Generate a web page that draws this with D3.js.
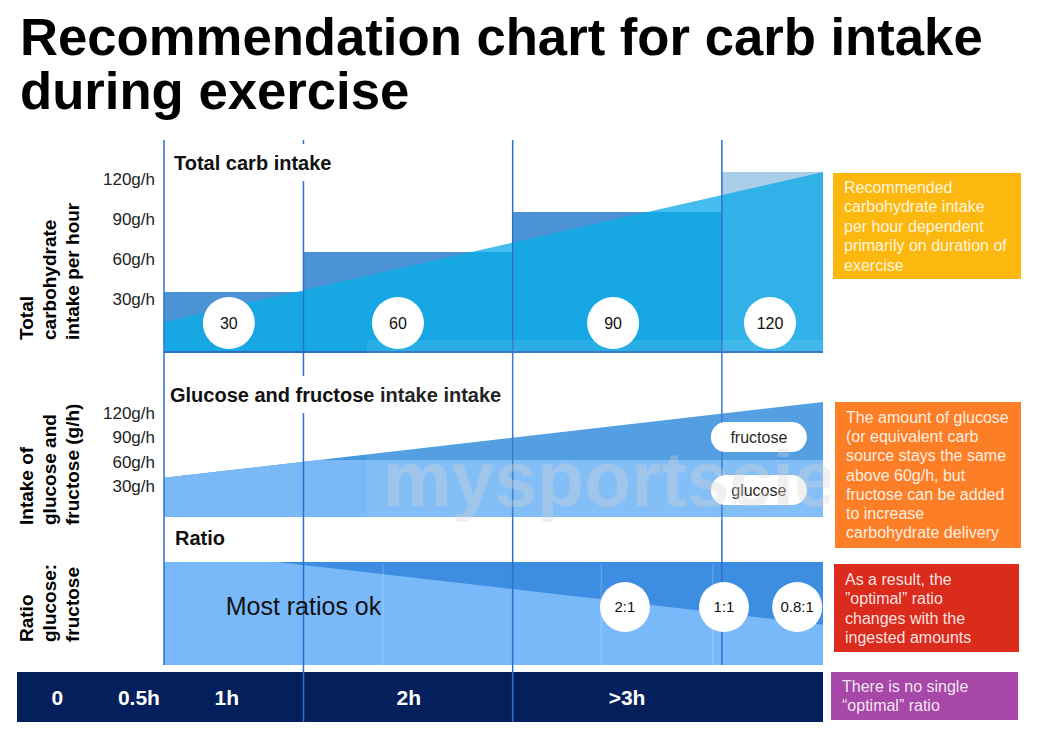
<!DOCTYPE html>
<html>
<head>
<meta charset="utf-8">
<script src="https://cdn.jsdelivr.net/npm/d3@7"></script>
<style>
  html, body { margin: 0; padding: 0; background: #fff; }
  svg { display: block; font-family: "Liberation Sans", Arial, Helvetica, sans-serif; }
</style>
</head>
<body>
<div id="chart"></div>
<script>
// time is in "illustration units": 0 = start of the first column, boundaries at 2, 5, 8
const columnEdges = [0, 2, 5, 8, 9.45];
const carbSteps = [30, 60, 90, 120];
const carbStepLabels = ["30", "60", "90", "120"];
const carbLabelAt = [0.93, 3.355, 6.44, 8.69];
const carbTrend = [{ t: 0, v: 7.5 }, { t: 9.45, v: 120 }];
const intakeTicks = [30, 60, 90, 120];

const gfTotal = [{ t: 0, v: 38 }, { t: 9.45, v: 131 }];
const glucoseCap = 60;
const gfTicks = [30, 60, 90, 120];
const gfPills = [{ label: "fructose", t: 8.53, v: 88 }, { label: "glucose", t: 8.53, v: 23 }];

const ratioEdge = [{ t: 1.62, v: 1 }, { t: 9.45, v: 0.39 }];
const ratioLabels = ["2:1", "1:1", "0.8:1"];
const ratioLabelAt = [6.61, 8.03, 9.08];
const ratioGuides = [3.14, 6.27, 7.87];

const axisLabels = ["0", "0.5h", "1h", "2h", ">3h"];
const axisLabelAt = [-1.53, -0.36, 0.9, 3.51, 6.64];

const notes = [
  { color: "#fdb80f", lines: ["Recommended", "carbohydrate intake", "per hour dependent", "primarily on duration of", "exercise"] },
  { color: "#fc7f28", lines: ["The amount of glucose", "(or equivalent carb", "source stays the same", "above 60g/h, but", "fructose can be added", "to increase", "carbohydrate delivery"] },
  { color: "#db2b1d", lines: ["As a result, the", "\u201doptimal\u201d ratio", "changes with the", "ingested amounts"] },
  { color: "#a747a8", lines: ["There is no single", "\u201coptimal\u201d ratio"] }
];

const width = 1059, height = 734;
const svg = d3.select("#chart").append("svg").attr("width", width).attr("height", height);

const x = d3.scaleLinear().domain([0, 9.45]).range([164, 823]);
const y1 = d3.scaleLinear().domain([-15, 120]).range([352, 172]);   // total carb panel
const y2 = d3.scaleLinear().domain([-10, 120]).range([517, 411]);   // glucose / fructose panel
const y3 = d3.scaleLinear().domain([0, 1]).range([665, 562]);       // ratio panel

// Title
const title = svg.append("g").attr("font-weight", "bold").attr("fill", "#000");
const t1 = title.append("text").attr("x", 20).attr("y", 55).attr("font-size", 50).text("Recommendation chart for carb intake");
const fs = 50 * 963 / t1.node().getComputedTextLength();
t1.attr("font-size", fs);
title.append("text").attr("x", 20).attr("y", 109).attr("font-size", fs).text("during exercise");

// ---- Total carb intake panel
const steps = carbSteps.map((v, i) => ({ v, t0: columnEdges[i], t1: columnEdges[i + 1], last: i === carbSteps.length - 1 }));
const trendArea = d3.area().x((d) => x(d.t)).y0(y1.range()[0]).y1((d) => y1(d.v));

svg.append("path").datum(carbTrend).attr("d", trendArea).attr("fill", "#46bdef");

svg.selectAll(".step").data(steps).join("rect")
  .attr("class", "step")
  .attr("x", (d) => x(d.t0)).attr("width", (d) => x(d.t1) - x(d.t0))
  .attr("y", (d) => y1(d.v)).attr("height", (d) => y1.range()[0] - y1(d.v))
  .attr("fill", (d) => d.last ? "#aacdea" : "#4b93d5");

const defs = svg.append("defs");
steps.forEach((d, i) => {
  defs.append("clipPath").attr("id", "step" + i).append("rect")
    .attr("x", x(d.t0)).attr("width", x(d.t1) - x(d.t0))
    .attr("y", y1(d.v)).attr("height", y1.range()[0] - y1(d.v));
  svg.append("path").datum(carbTrend).attr("d", trendArea)
    .attr("clip-path", `url(#step${i})`)
    .attr("fill", d.last ? "#30b2e9" : "#17a7e3");
});

svg.append("line").attr("x1", x(0)).attr("x2", x(9.45)).attr("y1", 352).attr("y2", 352)
  .attr("stroke", "#2a6dc2").attr("stroke-width", 2);

// ---- Glucose and fructose panel
const gfArea = d3.area().x((d) => x(d.t)).y0(y2.range()[0]).y1((d) => y2(d.v));
svg.append("path").datum(gfTotal).attr("d", gfArea).attr("fill", "#4697e0");
const tCap = gfTotal[0].t + (glucoseCap - gfTotal[0].v) / (gfTotal[1].v - gfTotal[0].v) * (gfTotal[1].t - gfTotal[0].t);
const glucose = [gfTotal[0], { t: tCap, v: glucoseCap }, { t: gfTotal[1].t, v: glucoseCap }];
svg.append("path").datum(glucose).attr("d", gfArea).attr("fill", "#7ab9f6");

// ---- Ratio panel
svg.append("rect").attr("x", x(0)).attr("width", x(9.45) - x(0))
  .attr("y", y3(1)).attr("height", y3(0) - y3(1)).attr("fill", "#3d8ee2");
const ratioArea = d3.area().x((d) => x(d.t)).y0(y3(0)).y1((d) => y3(d.v));
svg.append("path").datum([{ t: 0, v: 1 }, ...ratioEdge]).attr("d", ratioArea).attr("fill", "#79b9f9");
svg.selectAll(".rguide").data(ratioGuides).join("line")
  .attr("x1", (d) => x(d)).attr("x2", (d) => x(d))
  .attr("y1", y3(1) + 3).attr("y2", y3(0))
  .attr("stroke", "#fff").attr("stroke-opacity", 0.25).attr("stroke-width", 1);

// ---- Bottom time bar
svg.append("rect").attr("x", 17).attr("y", 672).attr("width", x(9.45) - 17).attr("height", 50).attr("fill", "#04205c");
svg.selectAll(".tlab").data(axisLabels).join("text")
  .attr("x", (d, i) => x(axisLabelAt[i])).attr("y", 705)
  .attr("text-anchor", "middle").attr("font-size", 21).attr("font-weight", "bold").attr("fill", "#fff")
  .text((d) => d);

// ---- Vertical guides
const guides = [
  { t: columnEdges[0], y0: 140, y1: 665 },
  { t: columnEdges[1], y0: 140, y1: 722 },
  { t: columnEdges[2], y0: 140, y1: 722 },
  { t: columnEdges[3], y0: 140, y1: 665 }
];
svg.selectAll(".vguide").data(guides).join("line")
  .attr("x1", (d) => x(d.t)).attr("x2", (d) => x(d.t))
  .attr("y1", (d) => d.y0).attr("y2", (d) => d.y1)
  .attr("stroke", "#2f6fcc").attr("stroke-width", 1.5);

// ---- Panel titles (white backing hides guide lines)
function panelTitle(txt, px, py) {
  const g = svg.append("g");
  const bg = g.append("rect").attr("fill", "#fff");
  const tx = g.append("text").attr("x", px).attr("y", py).attr("font-size", 20).attr("font-weight", "bold").attr("fill", "#111").text(txt);
  const w = tx.node().getComputedTextLength();
  bg.attr("x", px - 4).attr("y", py - 26).attr("width", w + 8).attr("height", 37);
}
panelTitle("Total carb intake", 174, 170);
panelTitle("Glucose and fructose intake intake", 170, 402);
svg.append("text").attr("x", 175).attr("y", 545).attr("font-size", 20).attr("font-weight", "bold").attr("fill", "#111").text("Ratio");

// ---- Tick labels
svg.selectAll(".tick1").data(intakeTicks).join("text")
  .attr("x", 155).attr("y", (d) => y1(d) + 7).attr("dy", "0.35em")
  .attr("text-anchor", "end").attr("font-size", 17).attr("fill", "#222")
  .text((d) => d + "g/h");
svg.selectAll(".tick2").data(gfTicks).join("text")
  .attr("x", 155).attr("y", (d) => y2(d) + 2).attr("dy", "0.35em")
  .attr("text-anchor", "end").attr("font-size", 17).attr("fill", "#222")
  .text((d) => d + "g/h");

// ---- Rotated row labels
const rowLabels = [
  { y: 340, lines: ["Total", "carbohydrate", "intake per hour"] },
  { y: 525, lines: ["Intake of", "glucose and", "fructose (g/h)"] },
  { y: 642, lines: ["Ratio", "glucose:", "fructose"] }
];
rowLabels.forEach((r) => {
  r.lines.forEach((ln, i) => {
    svg.append("text")
      .attr("transform", `translate(${33 + i * 23},${r.y}) rotate(-90)`)
      .attr("font-size", 19).attr("font-weight", "bold").attr("fill", "#000")
      .text(ln);
  });
});

// ---- Value bubbles
const carbBubbles = svg.selectAll(".cb").data(carbStepLabels).join("g")
  .attr("transform", (d, i) => `translate(${x(carbLabelAt[i])},${y1(6.75)})`);
carbBubbles.append("circle").attr("r", 26).attr("fill", "#fff");
carbBubbles.append("text").attr("text-anchor", "middle").attr("dy", "0.36em").attr("font-size", 16).attr("fill", "#111").text((d) => d);

const pills = svg.selectAll(".pill").data(gfPills).join("g")
  .attr("transform", (d) => `translate(${x(d.t)},${y2(d.v)})`);
pills.append("rect").attr("x", -48).attr("y", -15).attr("width", 96).attr("height", 30).attr("rx", 15).attr("fill", "#fff");
pills.append("text").attr("text-anchor", "middle").attr("dy", "0.35em").attr("font-size", 16).attr("fill", "#111").text((d) => d.label);

svg.append("text").attr("x", x(2)).attr("y", 615).attr("text-anchor", "middle")
  .attr("font-size", 25).attr("fill", "#111").text("Most ratios ok");

const ratioBubbles = svg.selectAll(".rb").data(ratioLabels).join("g")
  .attr("transform", (d, i) => `translate(${x(ratioLabelAt[i])},${y3(0.563)})`);
ratioBubbles.append("circle").attr("r", 25).attr("fill", "#fff");
ratioBubbles.append("text").attr("text-anchor", "middle").attr("dy", "0.36em").attr("font-size", 15).attr("fill", "#111").text((d) => d);

// ---- Watermark (faint wash + lettering, cut off under the notes)
svg.append("rect").attr("x", 367).attr("y", 340).attr("width", 558).attr("height", 180)
  .attr("fill", "#fff").attr("fill-opacity", 0.08);
defs.append("clipPath").attr("id", "wm").append("rect").attr("x", 360).attr("y", 440).attr("width", 470).attr("height", 90);
svg.append("text").attr("x", 383).attr("y", 506).attr("font-size", 77).attr("font-weight", "bold")
  .attr("clip-path", "url(#wm)")
  .attr("fill", "#d4d4d4").attr("fill-opacity", 0.35).text("mysportscie");

// ---- Side notes
const noteBoxes = [
  { x: 833, y: 173, w: 188, h: 106, base: 193, step: 19.4, tx: 844 },
  { x: 835, y: 402, w: 186, h: 146, base: 423, step: 19.2, tx: 846 },
  { x: 834, y: 564, w: 185, h: 88, base: 585, step: 19.4, tx: 845 },
  { x: 831, y: 672, w: 187, h: 48, base: 692, step: 19.4, tx: 842 }
];
notes.forEach((n, i) => {
  const b = noteBoxes[i];
  svg.append("rect").attr("x", b.x).attr("y", b.y).attr("width", b.w).attr("height", b.h).attr("fill", n.color);
  svg.append("g").selectAll("text").data(n.lines).join("text")
    .attr("x", b.tx).attr("y", (d, j) => b.base + j * b.step)
    .attr("font-size", 16).attr("fill", "#fff").attr("fill-opacity", 0.88)
    .text((d) => d);
});
</script>
</body>
</html>
